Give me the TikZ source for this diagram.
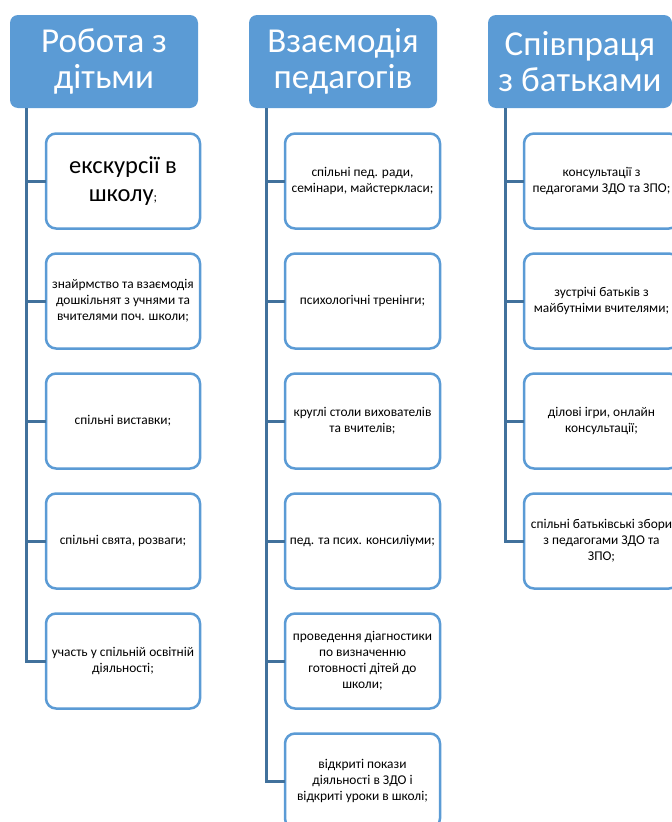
\documentclass[tikz,border=0pt]{standalone}
\usepackage{fontspec}
\setmainfont{Carlito}
\usetikzlibrary{positioning}
\definecolor{hdrblue}{HTML}{5B9BD5}
\definecolor{linkblue}{HTML}{41719C}
\tikzset{
header/.style={
	  fill=hdrblue, rounded corners=8pt, text=white, align=center,
	    minimum width=188pt, minimum height=93pt, inner sep=0pt,
    font=\fontsize{35}{36}\selectfont},
item/.style={
	  draw=hdrblue, line width=2.5pt, fill=white, rounded corners=10pt,
	    align=center, minimum width=154pt, minimum height=95pt, inner sep=0pt,
    outer sep=0pt, font=\fontsize{13.4}{16}\selectfont}
}
\tikzset{link/.style={draw=linkblue, line width=3pt}}
\newcommand{\bigtext}{\fontsize{24.5}{28}\selectfont}
\newcommand{\smalltext}{\fontsize{13}{16}\selectfont}

\begin{document}
\begin{tikzpicture}[x=1pt, y=-1pt, node distance=25pt]
	\useasboundingbox (0,0) rectangle (672,822);
	\clip (0,0) rectangle (672,822);
	% headers
	\node[header] (kids) at (104,61.5) {Робота з\\дітьми};
	\node[header] (teach) at (343,61.5) {Взаємодія\\педагогів};
	\node[header, minimum width=184pt] (parents) at (580,61.5) {Співпраця\\з батьками};
	% work with children
	\node[item, font=\bigtext] (k1) at (123,181) {екскурсії в\\школу\smalltext;};
	\node[item, below=of k1] (k2) {знайрмство та взаємодія\\дошкільнят з учнями та\\вчителями поч. школи;};
	\node[item, below=of k2] (k3) {спільні виставки;};
	\node[item, below=of k3] (k4) {спільні свята,  розваги;};
	\node[item, below=of k4] (k5) {участь у спільній освітній\\діяльності;};
	% teachers
	\node[item, minimum width=155pt] (t1) at (362.5,181) {спільні пед. ради,\\семінари, майстеркласи;};
	\node[item, minimum width=155pt, below=of t1] (t2) {психологічні тренінги;};
	\node[item, minimum width=155pt, below=of t2] (t3) {круглі столи вихователів\\та вчителів;};
	\node[item, minimum width=155pt, below=of t3] (t4) {пед. та псих. консиліуми;};
	\node[item, minimum width=155pt, below=of t4] (t5) {проведення діагностики\\по визначенню\\готовності дітей до\\школи;};
	\node[item, minimum width=155pt, below=of t5] (t6) {відкриті покази\\діяльності в ЗДО і\\відкриті уроки в школі;};
	% parents
	\node[item, minimum width=155pt] (p1) at (601.5,181) {консультації з\\педагогами ЗДО та ЗПО;};
	\node[item, minimum width=155pt, below=of p1] (p2) {зустрічі батьків з\\майбутніми вчителями;};
	\node[item, minimum width=155pt, below=of p2] (p3) {ділові ігри, онлайн\\консультації;};
	\node[item, minimum width=155pt, below=of p3] (p4) {спільні батьківські збори\\з педагогами ЗДО та\\ЗПО;};
	% connectors
	\draw[link] ([xshift=17pt]kids.south west) |- (k1.west);
	\draw[link] ([xshift=17pt]kids.south west) |- (k2.west);
	\draw[link] ([xshift=17pt]kids.south west) |- (k3.west);
	\draw[link] ([xshift=17pt]kids.south west) |- (k4.west);
	\draw[link] ([xshift=17pt]kids.south west) |- (k5.west);
	\draw[link] ([xshift=18pt]teach.south west) |- (t1.west);
	\draw[link] ([xshift=18pt]teach.south west) |- (t2.west);
	\draw[link] ([xshift=18pt]teach.south west) |- (t3.west);
	\draw[link] ([xshift=18pt]teach.south west) |- (t4.west);
	\draw[link] ([xshift=18pt]teach.south west) |- (t5.west);
	\draw[link] ([xshift=18pt]teach.south west) |- (t6.west);
	\draw[link] ([xshift=18pt]parents.south west) |- (p1.west);
	\draw[link] ([xshift=18pt]parents.south west) |- (p2.west);
	\draw[link] ([xshift=18pt]parents.south west) |- (p3.west);
	\draw[link] ([xshift=18pt]parents.south west) |- (p4.west);
\end{tikzpicture}
\end{document}
